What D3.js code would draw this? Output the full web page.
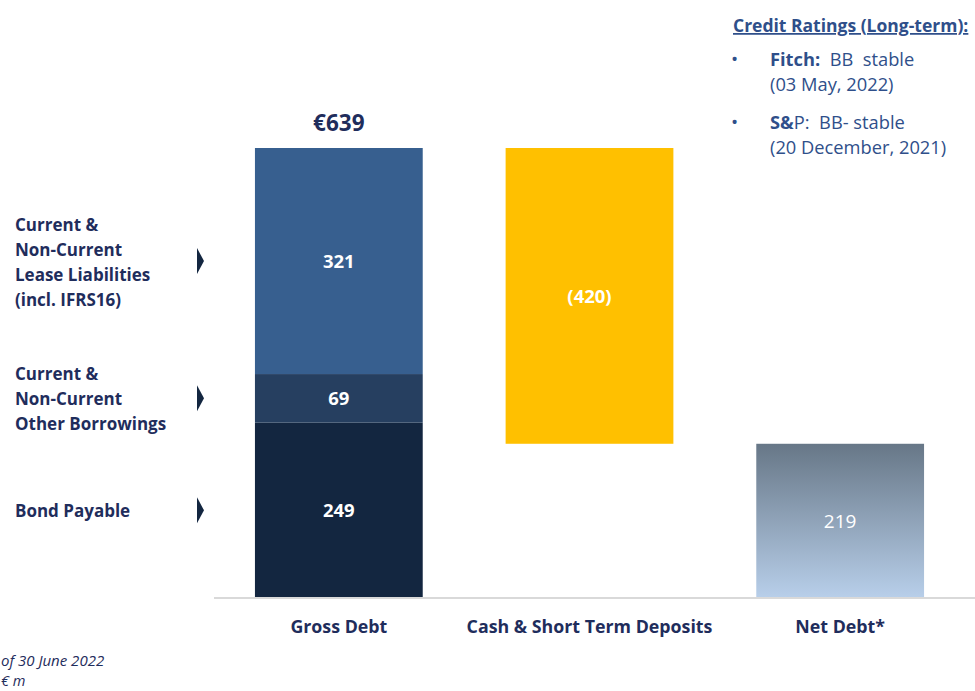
<!DOCTYPE html>
<html><head><meta charset="utf-8">
<script src="https://cdn.jsdelivr.net/npm/d3@7"></script>
<style>body{margin:0;background:#fff;overflow:hidden}svg{display:block;font-family:"Open Sans",Lato,sans-serif}</style>
</head><body><svg id="c" width="975" height="691"></svg>
<script>
const categories = ["Gross Debt", "Cash & Short Term Deposits", "Net Debt*"];
const grossSegments = ["Bond Payable", "Other Borrowings", "Lease Liabilities"];
const grossValues = [249, 69, 321];
const cashValue = 420;
const netDebtValue = 219;
const grossTotalLabel = "€639";
const segmentLabels = [["Bond Payable"], ["Current &", "Non-Current", "Other Borrowings"], ["Current &", "Non-Current", "Lease Liabilities", "(incl. IFRS16)"]];

const svg = d3.select("#c");
const navy = "#1F2D5C";
const FF = "'Open Sans',Lato,sans-serif";
const pi = 83/251;
const x = d3.scaleBand().domain(categories).range([213.5, 965.5]).paddingInner(pi).paddingOuter(pi/2);
const total = d3.sum(grossValues);
const y = d3.scaleLinear().domain([0, total]).range([598, 148]);
const segColors = ["#132640", "#263F60", "#375F8F"];

const defs = svg.append("defs");
const g = defs.append("linearGradient").attr("id","nd").attr("x1",0).attr("y1",0).attr("x2",0).attr("y2",1);
g.append("stop").attr("offset","0%").attr("stop-color","#677787");
g.append("stop").attr("offset","100%").attr("stop-color","#B8CFEA");

let cum = 0;
const stacks = grossValues.map((v,i)=>{const s={v,i,y0:cum,y1:cum+v};cum+=v;return s;});
svg.selectAll("rect.seg").data(stacks).join("rect")
  .attr("x", x(categories[0])).attr("width", x.bandwidth())
  .attr("y", d=>y(d.y1)).attr("height", d=>y(d.y0)-y(d.y1))
  .attr("fill", d=>segColors[d.i]);
svg.selectAll("text.seg").data(stacks).join("text")
  .attr("x", x(categories[0])+x.bandwidth()/2).attr("y", d=>(y(d.y0)+y(d.y1))/2+7)
  .attr("text-anchor","middle").attr("fill","#fff").attr("font-weight","bold").attr("font-size",18.5)
  .text(d=>d.v);

svg.append("rect").attr("x", x(categories[1])).attr("width", x.bandwidth())
  .attr("y", y(total)).attr("height", y(total-cashValue)-y(total)).attr("fill","#FFC000");
svg.append("text").attr("x", x(categories[1])+x.bandwidth()/2).attr("y",(y(total)+y(total-cashValue))/2+7)
  .attr("text-anchor","middle").attr("fill","#fff").attr("font-weight","bold").attr("font-size",18.5).text(`(${cashValue})`);

svg.append("rect").attr("x", x(categories[2])).attr("width", x.bandwidth())
  .attr("y", y(netDebtValue)).attr("height", y(0)-y(netDebtValue)).attr("fill","url(#nd)");
svg.append("text").attr("x", x(categories[2])+x.bandwidth()/2).attr("y",(y(0)+y(netDebtValue))/2+7)
  .attr("text-anchor","middle").attr("fill","#fff").attr("font-size",19).text(netDebtValue);

svg.append("text").attr("x", x(categories[0])+x.bandwidth()/2).attr("y", y(total)-17)
  .attr("text-anchor","middle").attr("fill",navy).attr("font-weight","bold").attr("font-size",22.5).text(grossTotalLabel);

const ax = svg.append("g").attr("transform","translate(0,598)").call(d3.axisBottom(x).tickSize(0).tickPadding(22));
ax.select(".domain").attr("d","M214,0H975").attr("stroke","#D9D9D9").attr("stroke-width",2);
ax.selectAll("text").attr("fill",navy).attr("font-weight","bold").attr("font-size",17.8).attr("font-family",FF);

const labelCenters = stacks.map(d=>(y(d.y0)+y(d.y1))/2);
segmentLabels.forEach((lines,i)=>{
  const cy = labelCenters[i];
  const n = lines.length;
  const t = svg.append("text").attr("fill",navy).attr("font-weight","bold").attr("font-size",17);
  lines.forEach((l,j)=>{
    t.append("tspan").attr("x",15).attr("y", cy - (n-1)*25/2 + j*25 + 7).text(l);
  });
  svg.append("path").attr("d",`M197,${cy-13}L204,${cy}L197,${cy+13}Z`).attr("fill","#132640");
});

const rc = "#2F4F8A";
svg.append("text").attr("x",733).attr("y",32).attr("fill",rc).attr("font-weight","bold").attr("font-size",17.5)
  .attr("text-decoration","underline").text("Credit Ratings (Long-term):");
const rat = [{b:"Fitch:",r:"  BB  stable",d:"(03 May, 2022)",y:66},{b:"S&",r:"P:  BB- stable",d:"(20 December, 2021)",y:129}];
rat.forEach(r=>{
  svg.append("text").attr("x",731).attr("y",r.y).attr("fill",rc).attr("font-size",19).text("•");
  const t = svg.append("text").attr("x",770).attr("y",r.y).attr("fill",rc).attr("font-size",18.3).attr("xml:space","preserve");
  t.append("tspan").attr("font-weight","bold").text(r.b);
  t.append("tspan").text(r.r);
  svg.append("text").attr("x",770).attr("y",r.y+25).attr("fill",rc).attr("font-size",18.3).text(r.d);
});

svg.append("text").attr("x",1).attr("y",666).attr("fill",navy).attr("font-style","italic").attr("font-size",15).text("of 30 June 2022");
svg.append("text").attr("x",1).attr("y",686).attr("fill",navy).attr("font-style","italic").attr("font-size",14.5).text("€ m");
</script></body></html>
